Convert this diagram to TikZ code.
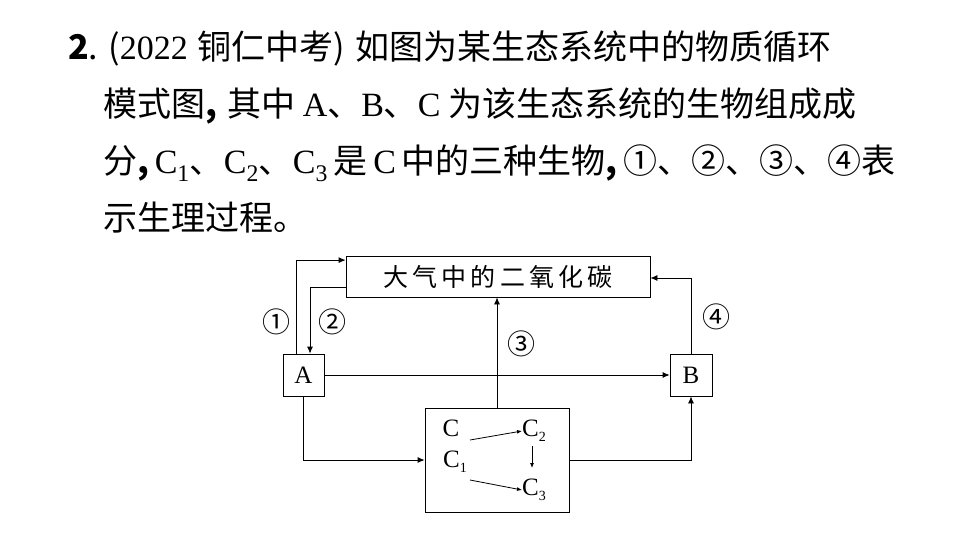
\documentclass[tikz,border=0pt]{standalone}
\usepackage{fontspec}
\setmainfont{Liberation Serif}
\newfontfamily\cjk{Noto Sans CJK SC}
\usetikzlibrary{arrows.meta}
\tikzset{
  box/.style={draw, thick, inner sep=0pt},
  flow/.style={thick, -{Latex[length=7pt,width=6pt]}},
  txt/.style={anchor=base west, inner sep=0pt, font=\fontsize{34}{34}\selectfont\cjk},
  lab/.style={inner sep=0pt, font=\fontsize{25}{25}\selectfont},
  num/.style={inner sep=0pt, font=\fontsize{28}{28}\selectfont\cjk},
}
\newcommand{\gap}{\hspace{10pt}}
\begin{document}
\begin{tikzpicture}[x=1pt,y=-1pt]
    \useasboundingbox (0,0) rectangle (960,540);
    % text
    \node[txt] (l1) at (68,60) {\textbf{2}.\gap({\rmfamily 2022}\gap 铜仁中考)\gap 如图为某生态系统中的物质循环};
    \node[txt] (l2) at (103,117) {模式图\textbf{,}\gap 其中 {\rmfamily A}、{\rmfamily B}、{\rmfamily C} 为该生态系统的生物组成成};
    \node[txt] (l3) at (103,174) {分\textbf{,}\,{\rmfamily C\textsubscript{1}}、{\rmfamily C\textsubscript{2}}、{\rmfamily C\textsubscript{3}}\,是\,{\rmfamily C}\,中的三种生物\textbf{,}\,①、②、③、④表};
    \node[txt] (l4) at (103,230) {示生理过程。};
    % boxes
    \node[box, minimum width=304, minimum height=41, font=\fontsize{25}{25}\selectfont\cjk] (air) at (498,276.5) {大\,气\,中\,的\,二\,氧\,化\,碳};
    \node[box, minimum width=41, minimum height=42, lab] (A) at (303.5,375) {A};
    \node[box, minimum width=42, minimum height=42, lab] (B) at (691,375) {B};
    \node[box, minimum width=144, minimum height=104] (C) at (497,460) {};
    % inside C
    \node[lab] (c0) at (451,428) {C};
    \node[lab, anchor=west] (c1) at (443,462) {C\raisebox{-5pt}{\fontsize{14}{14}\selectfont 1}};
    \node[lab, anchor=west] (c2) at (522,431) {C\raisebox{-5pt}{\fontsize{14}{14}\selectfont 2}};
    \node[lab, anchor=west] (c3) at (522,490) {C\raisebox{-5pt}{\fontsize{14}{14}\selectfont 3}};
    \coordinate (c1a) at (470,440);
    \coordinate (c1b) at (470,480);
    \coordinate (c2d) at (532,446);
    \coordinate (c3u) at (532,468);
    \draw[thick, -{Latex[length=5pt,width=4pt]}] (c1a) -- (c2.west);
    \draw[thick, -{Latex[length=5pt,width=4pt]}] (c2d) -- (c3u);
    \draw[thick, -{Latex[length=5pt,width=4pt]}] (c1b) -- (c3.west);
    % connectors
    \draw[flow] ([xshift=-7.5]A.north) |- ([yshift=-4.5]air.north west);
    \draw[flow] ([yshift=-10.5]air.west) -| ([xshift=6.5]A.north);
    \draw[flow] (C.north) -- (air.south -| C.north);
    \draw[flow] (B.north) |- ([yshift=-1.5]air.east);
    \draw[flow] (A) -- (B);
    \draw[flow] (A.south) |- (C.west);
    \draw[flow] (C.east) -| (B.south);
    % labels
    \node[num] (n1) at (276,322) {①};
    \node[num] (n2) at (332,322) {②};
    \node[num] (n3) at (521,344) {③};
    \node[num] (n4) at (716,317) {④};
\end{tikzpicture}
\end{document}
